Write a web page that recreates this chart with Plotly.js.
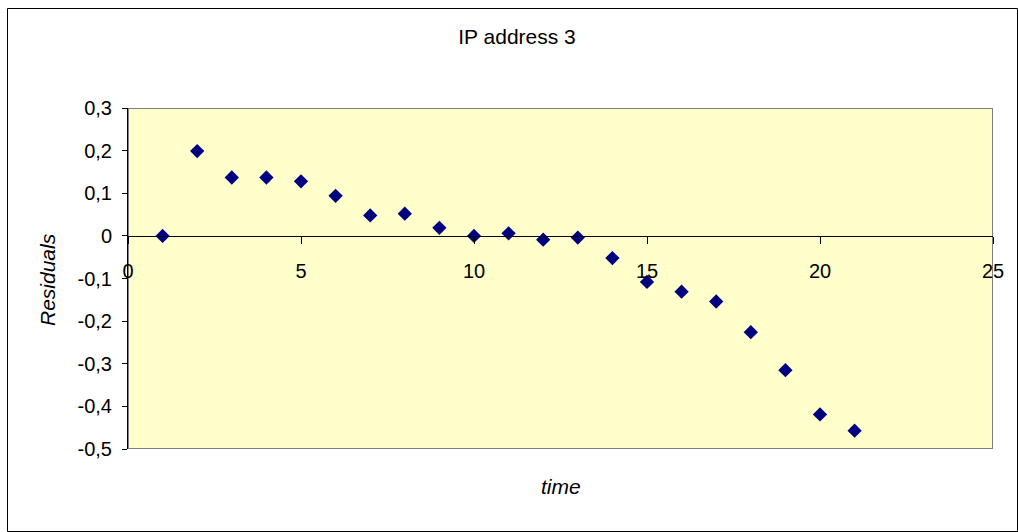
<!DOCTYPE html>
<html>
<head>
<meta charset="utf-8">
<script src="https://cdn.plot.ly/plotly-3.0.1.min.js"></script>
<style>
html,body{margin:0;padding:0;background:#fff;}
#chart{width:1018px;height:532px;}
</style>
</head>
<body>
<div id="chart"></div>
<script>
const time = [1,2,3,4,5,6,7,8,9,10,11,12,13,14,15,16,17,18,19,20,21];
const residuals = [0, 0.199, 0.137, 0.137, 0.128, 0.094, 0.048, 0.052, 0.019, 0, 0.006, -0.009, -0.004, -0.052, -0.108, -0.131, -0.154, -0.226, -0.315, -0.419, -0.457];
const yTickVals = [-0.5,-0.4,-0.3,-0.2,-0.1,0,0.1,0.2,0.3];
const yTickText = ['-0,5','-0,4','-0,3','-0,2','-0,1','0','0,1','0,2','0,3'];
const xTickVals = [0,5,10,15,20,25];
const xTickText = ['0','5','10','15','20','25'];
const chartTitle = 'IP address 3';
const xTitle = 'time';
const yTitle = 'Residuals';

const L = 128, R = 993, T = 108, B = 449, W = 1018, H = 532;
const px = x => (x - L) / (R - L);
const py = y => (B - y) / (B - T);

const trace = {
  x: time, y: residuals, type: 'scatter', mode: 'markers',
  marker: {symbol: 'diamond', size: 11, color: '#000080', line: {width: 0}},
  hoverinfo: 'skip'
};

const font = {family: 'Arial, "Liberation Sans", sans-serif', color: '#000'};

const layout = {
  width: W, height: H,
  margin: {l: L, r: W - R, t: T, b: H - B, pad: 0},
  paper_bgcolor: '#ffffff',
  plot_bgcolor: '#FFFFCC',
  showlegend: false,
  font: Object.assign({size: 19}, font),
  title: {text: chartTitle, x: 517 / W, xref: 'container', xanchor: 'center', y: 1 - 37 / H, yref: 'container', yanchor: 'middle', font: Object.assign({size: 21}, font)},
  xaxis: {
    range: [0, 25], tickvals: xTickVals, ticktext: xTickText,
    showgrid: false, zeroline: false,
    showline: true, linecolor: '#000', linewidth: 1,
    ticks: 'outside', ticklen: 7, tickcolor: '#000', tickwidth: 1,
    anchor: 'free', position: 0.625,
    ticklabelstandoff: 10,
    tickfont: Object.assign({size: 20}, font),
    fixedrange: true
  },
  yaxis: {
    range: [-0.5, 0.3], tickvals: yTickVals, ticktext: yTickText,
    showgrid: false, zeroline: false,
    showline: true, linecolor: '#000', linewidth: 1,
    ticks: 'outside', ticklen: 5, tickcolor: '#000', tickwidth: 1,
    ticklabelstandoff: 6,
    tickfont: Object.assign({size: 20}, font),
    fixedrange: true
  },
  annotations: [
    {text: '<i>' + xTitle + '</i>', xref: 'paper', yref: 'paper', x: px(561), y: py(487), xanchor: 'center', yanchor: 'middle', showarrow: false, font: Object.assign({size: 21}, font)},
    {text: '<i>' + yTitle + '</i>', xref: 'paper', yref: 'paper', x: px(47), y: py(280), xanchor: 'center', yanchor: 'middle', textangle: -90, showarrow: false, font: Object.assign({size: 21}, font)}
  ],
  shapes: [
    {type: 'rect', xref: 'x', yref: 'y', x0: 0, x1: 25, y0: -0.5, y1: 0.3, line: {color: '#808080', width: 2}, layer: 'below'},
    {type: 'rect', xref: 'paper', yref: 'paper', x0: px(7.5), x1: px(1017.5), y0: py(531.5), y1: py(8.5), line: {color: '#000', width: 1}, layer: 'above'}
  ]
};

Plotly.newPlot('chart', [trace], layout, {displayModeBar: false, staticPlot: true});
</script>
</body>
</html>
